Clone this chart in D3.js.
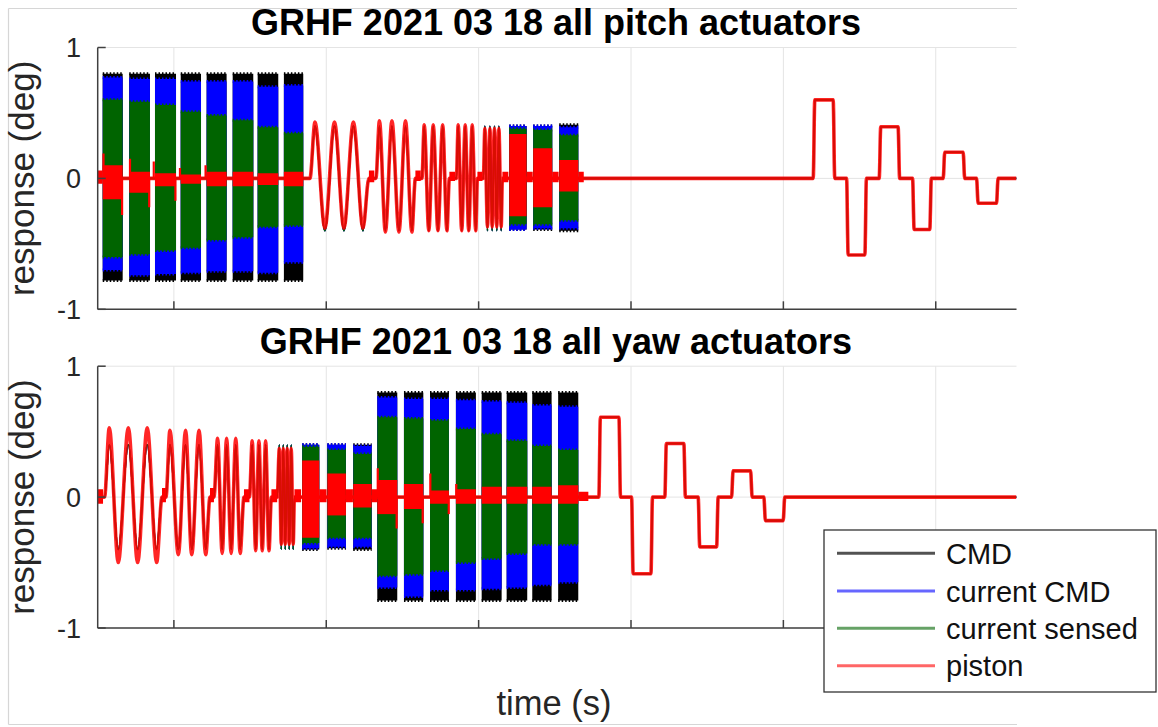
<!DOCTYPE html>
<html>
<head>
<meta charset="utf-8">
<script src="https://cdn.jsdelivr.net/npm/d3@7"></script>
<style>
  body { margin: 0; background: #fff; }
  svg { display: block; }
  text { font-family: "Liberation Sans", Arial, Helvetica, sans-serif; }
</style>
</head>
<body>
<svg id="fig" width="1158" height="727"></svg>
<script>
// ---------------------------------------------------------------
// Axis setup
// ---------------------------------------------------------------
const X_DOMAIN = [0, 603];                     // time (s)
const X_TICKS = [50, 150, 250, 350, 450, 550];
const Y_DOMAIN = [-1, 1];                      // response (deg)
const Y_TICKS = [-1, 0, 1];
const Y_TICK_LABELS = ["-1", "0", "1"];

const SERIES_NAMES = ["CMD", "current CMD", "current sensed", "piston"];
const SERIES_KEYS = ["cmd", "cur", "sen", "pis"];
const SERIES_COLORS = ["#000000", "#0000ff", "#006400", "#ff0000"];

const TITLES = ["GRHF 2021 03 18 all pitch actuators", "GRHF 2021 03 18 all yaw actuators"];
const Y_LABEL = "response (deg)";
const X_LABEL = "time (s)";

const STEP_RISE = 1.0;   // rise time of the step commands (s)

// ---------------------------------------------------------------
// Pitch actuators
// ---------------------------------------------------------------
// Low-frequency sine sweeps: times of zero / peak / trough / ... / zero,
// command amplitude and piston [peak, trough].
const pitchSweeps = [
  { t: [139.3, 142.6, 149.1, 155.4, 161.6, 167.8, 174.1, 178.0], amp: 0.40, pis: [0.43, -0.38] },
  { t: [182.6, 184.9, 188.8, 193.1, 197.7, 202.0, 206.2, 208.5], amp: 0.40, pis: [0.44, -0.41] },
  { t: [212.8, 214.3, 217.3, 220.2, 223.3, 226.4, 229.2, 230.8], amp: 0.40, pis: [0.41, -0.40] },
  { t: [235.4, 236.6, 238.9, 241.2, 243.5, 245.8, 248.1, 249.2], amp: 0.40, pis: [0.41, -0.40] },
  { t: [253.1, 254.1, 255.8, 257.4, 258.9, 260.4, 261.9, 263.3, 264.8, 265.6], amp: 0.40, pis: [0.38, -0.37] }
];

// High-frequency segments: envelope [max, min] of each trace
const pitchBands = [
  { t: [3.3, 16.4],    cmd: [0.80, -0.78], cur: [0.77, -0.70], sen: [0.60, -0.60],  pis: [0.10, -0.16] },
  { t: [20.7, 34.3],   cmd: [0.80, -0.78], cur: [0.76, -0.74], sen: [0.585, -0.58], pis: [0.05, -0.11] },
  { t: [37.6, 51.4],   cmd: [0.80, -0.78], cur: [0.76, -0.73], sen: [0.56, -0.55],  pis: [0.04, -0.06] },
  { t: [54.5, 67.8],   cmd: [0.80, -0.78], cur: [0.74, -0.72], sen: [0.51, -0.53],  pis: [0.03, -0.04] },
  { t: [71.5, 84.6],   cmd: [0.80, -0.78], cur: [0.74, -0.71], sen: [0.48, -0.47],  pis: [0.05, -0.06] },
  { t: [88.6, 102.1],  cmd: [0.80, -0.78], cur: [0.74, -0.71], sen: [0.445, -0.45], pis: [0.05, -0.06] },
  { t: [105.0, 118.5], cmd: [0.80, -0.78], cur: [0.70, -0.72], sen: [0.39, -0.37],  pis: [0.04, -0.05] },
  { t: [122.2, 134.9], cmd: [0.80, -0.78], cur: [0.71, -0.64], sen: [0.345, -0.36], pis: [0.05, -0.06] },
  { t: [270.1, 281.5], cmd: [0.40, -0.39], cur: [0.40, -0.39], sen: [0.38, -0.35],  pis: [0.34, -0.29] },
  { t: [285.8, 298.3], cmd: [0.40, -0.39], cur: [0.40, -0.38], sen: [0.37, -0.35],  pis: [0.23, -0.22] },
  { t: [302.9, 315.4], cmd: [0.41, -0.40], cur: [0.39, -0.38], sen: [0.33, -0.32],  pis: [0.14, -0.10] }
];

// Step commands: [start, end, level]
const pitchSteps = [
  [469.6, 482.7, 0.60], [491.5, 503.5, -0.585], [512.9, 525.3, 0.395],
  [534.8, 546.1, -0.39], [554.9, 568.0, 0.20], [576.8, 589.9, -0.19]
];

// Piston transients: short noisy stretches [start, end, max, min] and spikes [t, value]
const pitchBlips = [
  [0, 3.3, 0.06, -0.04], [178.0, 181.5, 0.06, -0.03], [208.5, 212.0, 0.06, -0.02],
  [230.8, 234.5, 0.05, -0.02], [249.2, 252.5, 0.05, -0.02], [265.6, 269.5, 0.05, -0.03],
  [281.5, 285.5, 0.05, -0.03], [298.3, 302.5, 0.05, -0.03], [315.4, 319.0, 0.05, -0.03]
];
const pitchSpikes = [
  [3.8, 0.19], [16.0, -0.28], [21.2, 0.15], [33.8, -0.22],
  [36.8, 0.13], [51.0, -0.17], [54.0, 0.08], [70.8, 0.10]
];

// ---------------------------------------------------------------
// Yaw actuators
// ---------------------------------------------------------------
const yawSweeps = [
  { t: [4.5, 7.6, 13.5, 20.1, 26.2, 32.5, 38.7, 42.2],     amp: 0.40, pis: [0.53, -0.50] },
  { t: [44.8, 47.4, 52.9, 57.7, 61.7, 66.5, 70.9, 73.7],   amp: 0.40, pis: [0.51, -0.44] },
  { t: [76.3, 78.7, 81.7, 84.6, 87.6, 90.6, 93.5, 96.0],   amp: 0.40, pis: [0.45, -0.43] },
  { t: [99.6, 101.4, 103.7, 105.8, 108.0, 110.2, 112.4, 114.0], amp: 0.40, pis: [0.43, -0.41] },
  { t: [117.8, 119.2, 120.5, 121.8, 123.1, 124.4, 125.7, 127.0, 128.3, 129.1], amp: 0.40, pis: [0.37, -0.36] }
];

const yawBands = [
  { t: [134.2, 145.4], cmd: [0.40, -0.40], cur: [0.40, -0.39], sen: [0.385, -0.35], pis: [0.28, -0.31] },
  { t: [150.7, 162.9], cmd: [0.40, -0.39], cur: [0.40, -0.38], sen: [0.36, -0.31],  pis: [0.18, -0.14] },
  { t: [167.7, 179.8], cmd: [0.40, -0.40], cur: [0.39, -0.38], sen: [0.33, -0.31],  pis: [0.10, -0.08] },
  { t: [183.5, 196.6], cmd: [0.80, -0.79], cur: [0.76, -0.69], sen: [0.61, -0.60],  pis: [0.13, -0.13] },
  { t: [201.0, 213.7], cmd: [0.80, -0.79], cur: [0.75, -0.76], sen: [0.60, -0.59],  pis: [0.10, -0.09] },
  { t: [218.1, 230.5], cmd: [0.80, -0.79], cur: [0.75, -0.71], sen: [0.585, -0.56], pis: [0.05, -0.05] },
  { t: [235.1, 248.2], cmd: [0.80, -0.79], cur: [0.74, -0.71], sen: [0.52, -0.50],  pis: [0.06, -0.05] },
  { t: [252.0, 265.1], cmd: [0.80, -0.79], cur: [0.73, -0.70], sen: [0.48, -0.47],  pis: [0.08, -0.05] },
  { t: [268.4, 281.9], cmd: [0.80, -0.79], cur: [0.72, -0.69], sen: [0.43, -0.43],  pis: [0.08, -0.05] },
  { t: [285.2, 297.9], cmd: [0.80, -0.79], cur: [0.70, -0.67], sen: [0.39, -0.36],  pis: [0.08, -0.05] },
  { t: [302.2, 315.4], cmd: [0.80, -0.79], cur: [0.69, -0.65], sen: [0.36, -0.36],  pis: [0.09, -0.05] }
];

const yawSteps = [
  [328.9, 342.1, 0.61], [350.4, 363.1, -0.585], [372.2, 384.7, 0.41],
  [394.1, 406.2, -0.38], [416.0, 428.5, 0.20], [437.2, 449.9, -0.18]
];

const yawBlips = [
  [0, 3.5, 0.06, -0.05], [42.2, 44.8, 0.07, -0.04], [73.7, 76.3, 0.07, -0.04],
  [96.0, 99.6, 0.06, -0.04], [114.0, 117.8, 0.06, -0.04], [129.1, 133.5, 0.06, -0.04],
  [145.4, 150.2, 0.06, -0.04], [162.9, 167.5, 0.06, -0.04], [179.8, 183.5, 0.06, -0.04],
  [315.4, 322.0, 0.04, -0.03]
];
const yawSpikes = [
  [183.8, 0.22], [196.2, -0.24], [213.3, -0.20], [218.3, 0.18], [230.4, -0.13], [235.3, 0.10]
];

// ---------------------------------------------------------------
// Layout
// ---------------------------------------------------------------
const svg = d3.select("#fig");
const AX_LEFT = 97.7, AX_RIGHT = 1016.5;

const panels = [
  { title: TITLES[0], top: 47.5, bottom: 309.3, titleY: 35,
    sweeps: pitchSweeps, bands: pitchBands, steps: pitchSteps, blips: pitchBlips, spikes: pitchSpikes },
  { title: TITLES[1], top: 366.2, bottom: 628.0, titleY: 354,
    sweeps: yawSweeps, bands: yawBands, steps: yawSteps, blips: yawBlips, spikes: yawSpikes }
];

// light figure frame (left, top, bottom edges)
const frame = svg.append("g").attr("stroke", "#d6d6d6").attr("stroke-width", 1.2).attr("fill", "none");
frame.append("line").attr("x1", 8.5).attr("x2", 8.5).attr("y1", 8.5).attr("y2", 724.5);
frame.append("line").attr("x1", 8.5).attr("x2", 1017).attr("y1", 8.5).attr("y2", 8.5);
frame.append("line").attr("x1", 8.5).attr("x2", 1017).attr("y1", 724.5).attr("y2", 724.5);

const x = d3.scaleLinear().domain(X_DOMAIN).range([AX_LEFT, AX_RIGHT]);

panels.forEach((p, pi) => {
  const y = d3.scaleLinear().domain(Y_DOMAIN).range([p.bottom, p.top]);
  const g = svg.append("g");

  const clipId = "clip" + pi;
  svg.append("defs").append("clipPath").attr("id", clipId)
    .append("rect").attr("x", AX_LEFT).attr("y", p.top - 2)
    .attr("width", AX_RIGHT - AX_LEFT).attr("height", p.bottom - p.top + 4);

  // grid
  const grid = g.append("g").attr("stroke", "#e4e4e4").attr("stroke-width", 1);
  X_TICKS.forEach(t => grid.append("line").attr("x1", x(t)).attr("x2", x(t)).attr("y1", p.top).attr("y2", p.bottom));
  Y_TICKS.forEach(v => grid.append("line").attr("x1", AX_LEFT).attr("x2", AX_RIGHT).attr("y1", y(v)).attr("y2", y(v)));

  const data = g.append("g").attr("clip-path", `url(#${clipId})`);

  const line = d3.line().x(d => x(d[0])).y(d => y(d[1])).curve(d3.curveMonotoneX);
  const area = d3.area().x(d => x(d[0])).y0(d => y(d[2])).y1(d => y(d[1]));

  SERIES_KEYS.forEach((key, si) => {
    const color = SERIES_COLORS[si];
    const isPiston = key === "pis";

    // continuous trace: rest level, sine sweeps and steps
    const pts = [[X_DOMAIN[0], 0]];
    p.sweeps.forEach(s => {
      const n = s.t.length;
      s.t.forEach((t, i) => {
        let v = 0;
        if (i > 0 && i < n - 1) {
          const up = i % 2 === 1;
          if (isPiston) v = up ? s.pis[0] : s.pis[1];
          else v = up ? s.amp : -s.amp;
        }
        pts.push([t, v]);
      });
    });
    p.steps.forEach(([t0, t1, lev]) => {
      pts.push([t0, 0], [t0 + STEP_RISE, lev], [t1, lev], [t1 + STEP_RISE, 0]);
    });
    pts.push([X_DOMAIN[1], 0]);
    pts.sort((a, b) => a[0] - b[0]);

    data.append("path")
      .attr("d", line(pts))
      .attr("fill", "none")
      .attr("stroke", color)
      .attr("stroke-width", isPiston ? 3.6 : 1.6)
      .attr("stroke-opacity", isPiston ? 0.85 : 1)
      .attr("stroke-linejoin", "round");

    // dense high-frequency segments drawn as filled envelopes,
    // with a fine comb along the outer edges for the oscillation peaks
    p.bands.forEach(b => {
      const env = b[key];
      data.append("path")
        .attr("d", area([[b.t[0], env[0], env[1]], [b.t[1], env[0], env[1]]]))
        .attr("fill", color);
      if (!isPiston) {
        env.forEach(v => {
          data.append("line")
            .attr("x1", x(b.t[0])).attr("x2", x(b.t[1]))
            .attr("y1", y(v)).attr("y2", y(v))
            .attr("stroke", color).attr("stroke-width", 3)
            .attr("stroke-dasharray", "1.5,2");
        });
      }
    });

    if (isPiston) {
      p.blips.forEach(([t0, t1, hi, lo]) => {
        data.append("path")
          .attr("d", area([[t0, hi, lo], [t1, hi, lo]]))
          .attr("fill", color);
      });
      data.selectAll(null).data(p.spikes).enter().append("line")
        .attr("x1", d => x(d[0])).attr("x2", d => x(d[0]))
        .attr("y1", y(0)).attr("y2", d => y(d[1]))
        .attr("stroke", color).attr("stroke-width", 2.2);
    }
  });

  // axes: left and bottom spines with inward ticks
  const ax = g.append("g").attr("stroke", "#404040").attr("stroke-width", 1.5).attr("fill", "none");
  ax.append("line").attr("x1", AX_LEFT).attr("x2", AX_LEFT).attr("y1", p.top).attr("y2", p.bottom);
  ax.append("line").attr("x1", AX_LEFT).attr("x2", AX_RIGHT).attr("y1", p.bottom).attr("y2", p.bottom);
  X_TICKS.forEach(t => ax.append("line").attr("x1", x(t)).attr("x2", x(t)).attr("y1", p.bottom).attr("y2", p.bottom - 8));
  Y_TICKS.forEach(v => ax.append("line").attr("x1", AX_LEFT).attr("x2", AX_LEFT + 8).attr("y1", y(v)).attr("y2", y(v)));

  // tick labels
  g.append("g").selectAll("text").data(Y_TICKS).enter().append("text")
    .attr("x", 81).attr("y", d => y(d) + 9.6)
    .attr("text-anchor", "end").attr("font-size", 27).attr("fill", "#262626")
    .text((d, i) => Y_TICK_LABELS[i]);

  // y label
  g.append("text")
    .attr("transform", `translate(33.5,${(p.top + p.bottom) / 2}) rotate(-90)`)
    .attr("text-anchor", "middle").attr("font-size", 35).attr("fill", "#262626")
    .text(Y_LABEL);

  // title
  g.append("text")
    .attr("x", 556).attr("y", p.titleY)
    .attr("text-anchor", "middle").attr("font-size", 36).attr("font-weight", "bold").attr("fill", "#000")
    .text(p.title);
});

// x label
svg.append("text")
  .attr("x", 554).attr("y", 715)
  .attr("text-anchor", "middle").attr("font-size", 34.5).attr("fill", "#262626")
  .text(X_LABEL);

// legend
const lg = svg.append("g");
lg.append("rect").attr("x", 824).attr("y", 530).attr("width", 332).attr("height", 162)
  .attr("fill", "#fff").attr("stroke", "#333").attr("stroke-width", 1.3);
const LEG_Y = [553.3, 591, 628.3, 665.7];
const LEG_OPACITY = [0.68, 0.6, 0.6, 0.6];
SERIES_NAMES.forEach((name, i) => {
  lg.append("line").attr("x1", 837).attr("x2", 935).attr("y1", LEG_Y[i]).attr("y2", LEG_Y[i])
    .attr("stroke", SERIES_COLORS[i]).attr("stroke-opacity", LEG_OPACITY[i]).attr("stroke-width", 3);
  lg.append("text").attr("x", 946).attr("y", LEG_Y[i] + 10.5)
    .attr("font-size", 29).attr("fill", "#111").text(name);
});
</script>
</body>
</html>
